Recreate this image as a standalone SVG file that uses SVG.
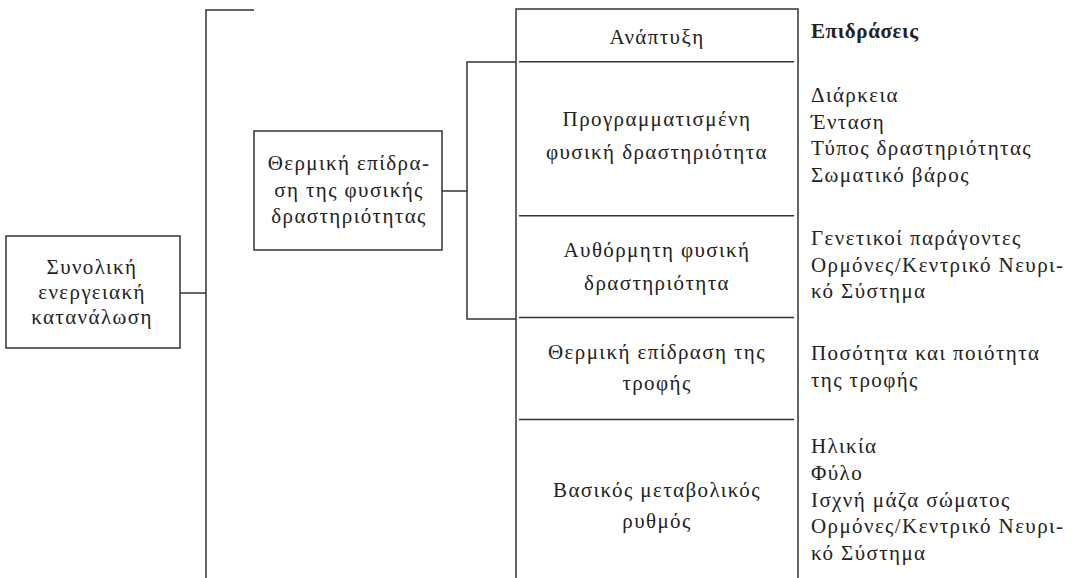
<svg xmlns="http://www.w3.org/2000/svg" width="1071" height="578" viewBox="0 0 1071 578">
<style>
  .ln { stroke: #333; stroke-width: 1.5; fill: none; }
  .box { stroke: #333; stroke-width: 1.5; fill: #fff; }
  .t { font-family: "Liberation Serif", "DejaVu Serif", serif; font-size: 21px; fill: #222; letter-spacing: 1.4px; }
  .c { text-anchor: middle; }
  .b { font-weight: bold; letter-spacing: 0.6px; }
</style>
<rect width="1071" height="578" fill="#fff"/>
<g id="connectors">
  <path class="ln" d="M254,10 H206 V578"/>
  <line class="ln" x1="180" y1="293" x2="206" y2="293"/>
  <line class="ln" x1="442" y1="191" x2="467" y2="191"/>
  <path class="ln" d="M516,62 H467 V319 H516"/>
</g>
<g id="total-energy">
  <rect class="box" x="6" y="236" width="174" height="112"/>
  <text class="t c" x="92" y="274">Συνολική</text>
  <text class="t c" x="92" y="299">ενεργειακή</text>
  <text class="t c" x="92" y="324">κατανάλωση</text>
</g>
<g id="thermic-activity">
  <rect class="box" x="254" y="131" width="188" height="119"/>
  <text class="t c" x="349" y="170">Θερμική επίδρα-</text>
  <text class="t c" x="349" y="197">ση της φυσικής</text>
  <text class="t c" x="349" y="223">δραστηριότητας</text>
</g>
<g id="components">
  <path class="ln" d="M516,578 V9 H798 V578"/>
  <line class="ln" x1="519" y1="61.7" x2="794" y2="61.7"/>
  <line class="ln" x1="519" y1="215.7" x2="794" y2="215.7"/>
  <line class="ln" x1="519" y1="317.5" x2="794" y2="317.5"/>
  <line class="ln" x1="519" y1="419.5" x2="794" y2="419.5"/>
</g>
<g id="growth">
  <text class="t c" x="657" y="44">Ανάπτυξη</text>
</g>
<g id="planned-activity">
  <text class="t c" x="657" y="126">Προγραμματισμένη</text>
  <text class="t c" x="657" y="159">φυσική δραστηριότητα</text>
</g>
<g id="spontaneous-activity">
  <text class="t c" x="657" y="257">Αυθόρμητη φυσική</text>
  <text class="t c" x="657" y="290">δραστηριότητα</text>
</g>
<g id="thermic-food">
  <text class="t c" x="657" y="359">Θερμική επίδραση της</text>
  <text class="t c" x="657" y="390">τροφής</text>
</g>
<g id="bmr">
  <text class="t c" x="657" y="497">Βασικός μεταβολικός</text>
  <text class="t c" x="657" y="528">ρυθμός</text>
</g>
<g id="influences">
  <text class="t b" x="811" y="38">Επιδράσεις</text>
  <text class="t" x="811" y="102">Διάρκεια</text>
  <text class="t" x="811" y="128.5">Ένταση</text>
  <text class="t" x="811" y="155">Τύπος δραστηριότητας</text>
  <text class="t" x="811" y="182">Σωματικό βάρος</text>
  <text class="t" x="811" y="245">Γενετικοί παράγοντες</text>
  <text class="t" x="811" y="271.5">Ορμόνες/Κεντρικό Νευρι-</text>
  <text class="t" x="811" y="298">κό Σύστημα</text>
  <text class="t" x="811" y="360">Ποσότητα και ποιότητα</text>
  <text class="t" x="811" y="387">της τροφής</text>
  <text class="t" x="811" y="453">Ηλικία</text>
  <text class="t" x="811" y="480">Φύλο</text>
  <text class="t" x="811" y="506.5">Ισχνή μάζα σώματος</text>
  <text class="t" x="811" y="533">Ορμόνες/Κεντρικό Νευρι-</text>
  <text class="t" x="811" y="559.5">κό Σύστημα</text>
</g>
</svg>
